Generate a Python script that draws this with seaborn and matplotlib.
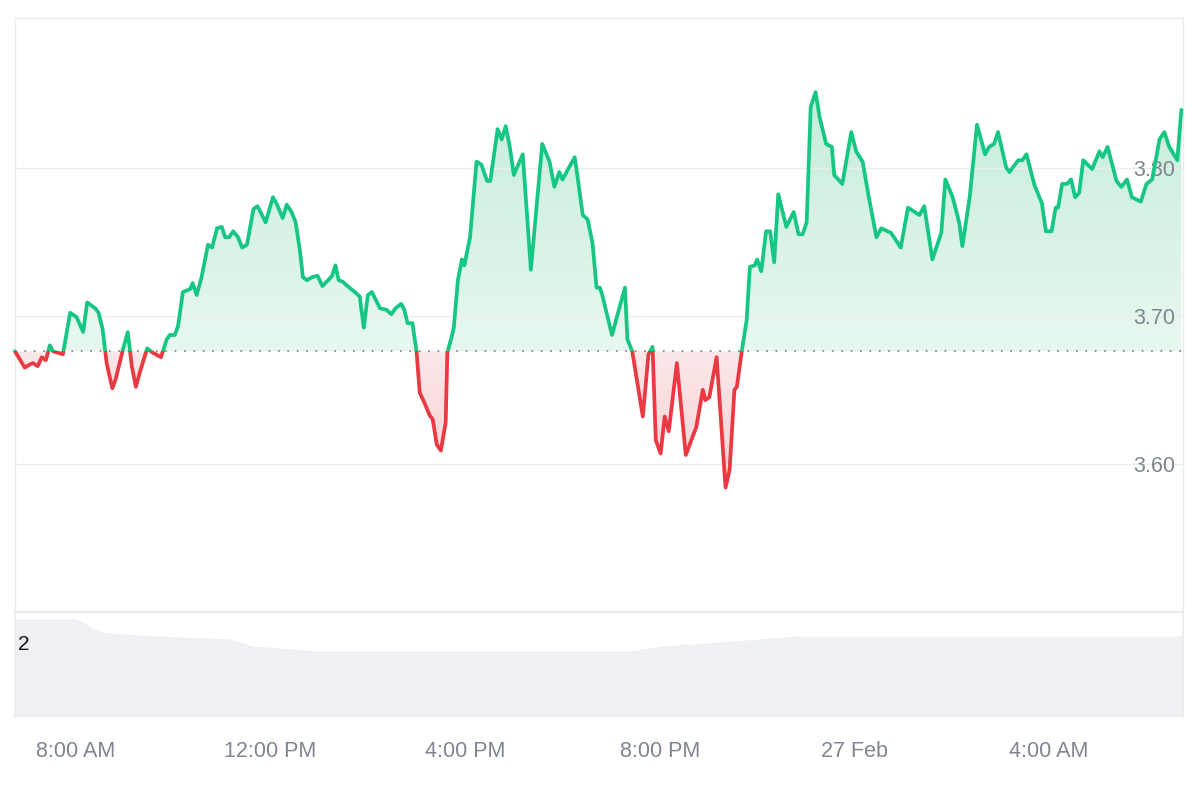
import numpy as np
import pandas as pd
import matplotlib
matplotlib.use("Agg")
import matplotlib.pyplot as plt
import matplotlib.dates as mdates
import matplotlib.transforms as mtransforms
from matplotlib.path import Path
from matplotlib.patches import Rectangle
from matplotlib.colors import LinearSegmentedColormap
import seaborn as sns

# ---------------- data ----------------
START = pd.Timestamp("2025-02-26 06:45")

minutes = [0, 12, 18, 22, 28, 33, 38, 43, 47, 53,
           59, 68, 76, 84, 89, 99, 103, 108, 113, 120,
           124, 133, 139, 144, 149, 154, 163, 170, 180, 187,
           191, 197, 201, 207, 216, 219, 224, 230, 238, 243,
           249, 255, 259, 264, 269, 275, 280, 286, 294, 299,
           309, 318, 323, 330, 335, 341, 346, 351, 355, 360,
           366, 373, 379, 386, 391, 395, 399, 404, 410, 419,
           425, 430, 435, 440, 450, 458, 464, 469, 476, 480,
           484, 490, 495, 499, 505, 511, 515, 520, 525, 531,
           533, 538, 541, 546, 551, 554, 561, 569, 575, 582,
           586, 595, 600, 605, 610, 615, 626, 636, 650, 659,
           665, 671, 675, 690, 694, 700, 706, 712, 717, 721,
           724, 736, 752, 755, 761, 774, 781, 786, 790, 796,
           801, 806, 816, 827, 840, 848, 851, 856, 865, 876,
           881, 887, 890, 896, 902, 906, 912, 915, 920, 926,
           931, 936, 941, 951, 960, 966, 971, 976, 981, 987,
           992, 1000, 1007, 1010, 1020, 1031, 1037, 1045, 1052, 1062,
           1068, 1080, 1092, 1101, 1115, 1121, 1131, 1142, 1147, 1156,
           1164, 1168, 1177, 1186, 1196, 1201, 1207, 1212, 1222, 1226,
           1230, 1237, 1242, 1247, 1257, 1266, 1271, 1278, 1283, 1286,
           1291, 1297, 1302, 1307, 1312, 1317, 1328, 1337, 1341, 1347,
           1358, 1364, 1371, 1377, 1388, 1395, 1402, 1411, 1417, 1423,
           1433, 1438]

price = [3.676, 3.665, 3.667, 3.668, 3.666, 3.672, 3.670, 3.680, 3.676, 3.675,
         3.674, 3.702, 3.699, 3.689, 3.709, 3.705, 3.702, 3.691, 3.668, 3.651,
         3.657, 3.677, 3.689, 3.666, 3.652, 3.662, 3.678, 3.675, 3.672, 3.684,
         3.687, 3.687, 3.693, 3.716, 3.718, 3.722, 3.714, 3.726, 3.748, 3.746,
         3.759, 3.760, 3.753, 3.753, 3.757, 3.753, 3.746, 3.748, 3.772, 3.774,
         3.763, 3.780, 3.775, 3.766, 3.775, 3.770, 3.763, 3.745, 3.726, 3.724,
         3.726, 3.727, 3.720, 3.724, 3.727, 3.734, 3.724, 3.723, 3.720, 3.716,
         3.713, 3.692, 3.714, 3.716, 3.705, 3.704, 3.701, 3.705, 3.708, 3.704,
         3.695, 3.695, 3.676, 3.648, 3.641, 3.633, 3.630, 3.613, 3.609, 3.628,
         3.675, 3.685, 3.692, 3.724, 3.738, 3.734, 3.753, 3.804, 3.802, 3.791,
         3.791, 3.826, 3.819, 3.828, 3.814, 3.795, 3.809, 3.731, 3.816, 3.804,
         3.787, 3.797, 3.792, 3.807, 3.792, 3.768, 3.765, 3.749, 3.719, 3.719,
         3.714, 3.687, 3.719, 3.684, 3.676, 3.632, 3.674, 3.679, 3.616, 3.607,
         3.632, 3.622, 3.668, 3.606, 3.625, 3.650, 3.643, 3.645, 3.672, 3.584,
         3.596, 3.650, 3.652, 3.676, 3.697, 3.733, 3.734, 3.738, 3.730, 3.757,
         3.757, 3.736, 3.782, 3.760, 3.770, 3.755, 3.755, 3.763, 3.841, 3.851,
         3.834, 3.816, 3.814, 3.795, 3.789, 3.824, 3.811, 3.804, 3.782, 3.753,
         3.759, 3.756, 3.746, 3.773, 3.768, 3.774, 3.738, 3.756, 3.792, 3.780,
         3.763, 3.747, 3.780, 3.829, 3.809, 3.814, 3.816, 3.824, 3.800, 3.797,
         3.800, 3.805, 3.805, 3.809, 3.788, 3.776, 3.757, 3.757, 3.773, 3.773,
         3.789, 3.789, 3.792, 3.780, 3.783, 3.805, 3.799, 3.811, 3.807, 3.814,
         3.791, 3.787, 3.792, 3.780, 3.777, 3.789, 3.792, 3.819, 3.824, 3.814,
         3.805, 3.839]

vol_minutes = [0, 76, 105, 166, 265, 293, 372, 450, 758, 803, 885, 967, 1440]
volume = [2.66, 2.66, 2.30, 2.19, 2.11, 1.92, 1.78, 1.78, 1.78, 1.92, 2.05, 2.19, 2.19]

tick_times = ["2025-02-26 08:00", "2025-02-26 12:00", "2025-02-26 16:00",
              "2025-02-26 20:00", "2025-02-27 00:00", "2025-02-27 04:00"]
tick_labels = ["8:00 AM", "12:00 PM", "4:00 PM", "8:00 PM", "27 Feb", "4:00 AM"]
y_ticks = [3.60, 3.70, 3.80]
volume_label = "2"

# ---------------- style ----------------
GREEN = "#16c784"
RED = "#ea3943"
GRAY_TXT = "#7f8591"
GRID = "#ececec"

sns.set_theme(style="white")
plt.rcParams["font.family"] = ["Liberation Sans", "DejaVu Sans"]
plt.rcParams["axes.axisbelow"] = False

fig = plt.figure(figsize=(12, 8), dpi=100, facecolor="white")
L, W = 15 / 1200, 1168 / 1200
ax = fig.add_axes([L, (800 - 612) / 800, W, 594 / 800])
axv = fig.add_axes([L, (800 - 717) / 800, W, 105 / 800], sharex=ax)
ax.set_axisbelow(False)

t = START + pd.to_timedelta(minutes, unit="m")
x = mdates.date2num(t.to_pydatetime())
p = np.array(price)
base = price[0]
x0 = mdates.date2num(START.to_pydatetime())
x1 = mdates.date2num((START + pd.Timedelta(hours=24)).to_pydatetime())
ymin, ymax = 3.50, 3.901

# gradient fills clipped to the areas above / below baseline
grad = np.linspace(0, 1, 256).reshape(-1, 1)
g_cmap = LinearSegmentedColormap.from_list("g", ["#e8f8f0", "#c3ecd8"])
r_cmap = LinearSegmentedColormap.from_list("r", ["#f7ced1", "#fce8e9"])

fill_g = ax.fill_between(x, p, base, where=p >= base, interpolate=True,
                         facecolor="none", edgecolor="none")
fill_r = ax.fill_between(x, p, base, where=p <= base, interpolate=True,
                         facecolor="none", edgecolor="none")
im_g = ax.imshow(grad, extent=[x0, x1, base, 3.86], origin="lower",
                 aspect="auto", cmap=g_cmap, zorder=0.2, interpolation="bilinear")
im_g.set_clip_path(Path.make_compound_path(*fill_g.get_paths()), ax.transData)
im_r = ax.imshow(grad, extent=[x0, x1, 3.58, base], origin="lower",
                 aspect="auto", cmap=r_cmap, zorder=0.2, interpolation="bilinear")
im_r.set_clip_path(Path.make_compound_path(*fill_r.get_paths()), ax.transData)

# baseline
ax.axhline(base, color="#8d8d8d", lw=1.3, ls=(0, (1, 4.2)), zorder=2.6)

# price line: green above baseline, red below
df = pd.DataFrame({"x": x, "price": p})
sns.lineplot(data=df, x="x", y="price", ax=ax, color=GREEN, lw=2.7, zorder=3)
line_g = ax.lines[-1]
sns.lineplot(data=df, x="x", y="price", ax=ax, color=RED, lw=2.7, zorder=3)
line_r = ax.lines[-1]
for ln in (line_g, line_r):
    ln.set_solid_joinstyle("round")
    ln.set_solid_capstyle("round")
clip_up = Rectangle((x0 - 1, base), (x1 - x0) + 2, 10, transform=ax.transData)
clip_dn = Rectangle((x0 - 1, base - 10), (x1 - x0) + 2, 10, transform=ax.transData)
line_g.set_clip_path(clip_up)
line_r.set_clip_path(clip_dn)

ax.set_xlim(x0, x1)
ax.set_ylim(ymin, ymax)
ax.set_xlabel("")
ax.set_ylabel("")
ax.yaxis.tick_right()
ax.set_yticks(y_ticks)
ax.set_yticklabels([f"{v:.2f}" for v in y_ticks])
for lbl in ax.get_yticklabels():
    lbl.set_horizontalalignment("right")
ax.tick_params(axis="y", length=0, pad=-5.8, labelsize=15.5, labelcolor=GRAY_TXT)
ax.tick_params(axis="x", length=0, labelbottom=False)
ax.grid(axis="y", color=GRID, lw=1.0)
ax.grid(axis="x", visible=False)
for s in ("top", "left", "right"):
    ax.spines[s].set_color("#ececec")
    ax.spines[s].set_linewidth(1.0)
ax.spines["bottom"].set_visible(False)
ax.set_facecolor("none")

# volume area
vt = START + pd.to_timedelta(vol_minutes, unit="m")
vx = mdates.date2num(vt.to_pydatetime())
axv.fill_between(vx, volume, 0, color="#eef0f4", lw=0)
sns.lineplot(x=vx, y=volume, ax=axv, color="#eceff3", lw=1.0)
axv.set_ylim(0, 2.88)
axv.set_xlim(x0, x1)
axv.set_yticks([])
axv.set_ylabel("")
tr = mtransforms.blended_transform_factory(axv.transAxes, axv.transData)
axv.text(3 / 1168, 2.0, volume_label, transform=tr, ha="left", va="center",
         fontsize=15, color="#1a1a1a", zorder=5)
tick_nums = [mdates.date2num(pd.Timestamp(s).to_pydatetime()) for s in tick_times]
axv.set_xticks(tick_nums)
axv.set_xticklabels(tick_labels)
axv.tick_params(axis="x", length=0, pad=17, labelsize=15.5, labelcolor=GRAY_TXT)
axv.spines["top"].set_color("#e6e6e6")
for s in ("left", "right"):
    axv.spines[s].set_color("#ececec")
axv.spines["bottom"].set_visible(False)
axv.set_facecolor("none")

fig.savefig("out.png", dpi=100, facecolor="white")
